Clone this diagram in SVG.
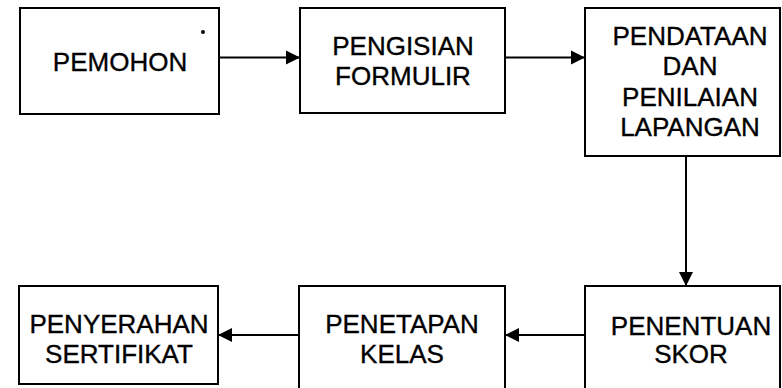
<svg xmlns="http://www.w3.org/2000/svg" width="782" height="388" viewBox="0 0 782 388">
<style>
.box{fill:#fff;stroke:#000;stroke-width:2}
.lbl{font-family:"Liberation Sans",Arial,sans-serif;font-size:26px;fill:#000;stroke:#000;stroke-width:0.35;text-anchor:middle}
.conn{stroke:#000;stroke-width:2;fill:none;marker-end:url(#ah)}
</style>
<defs>
<marker id="ah" markerWidth="15" markerHeight="15" viewBox="0 0 15 15" refX="14" refY="7.5" orient="auto" markerUnits="userSpaceOnUse">
<path d="M0,0.5 L14,7.5 L0,14.5 Z" fill="#000"/>
</marker>
</defs>
<rect width="782" height="388" fill="#fff"/>
<g id="connectors">
<line class="conn" x1="219" y1="57.5" x2="300" y2="57.5"/>
<line class="conn" x1="505" y1="57.5" x2="585" y2="57.5"/>
<line class="conn" x1="686" y1="156" x2="686" y2="286"/>
<line class="conn" x1="585" y1="335" x2="505" y2="335"/>
<line class="conn" x1="299" y1="335" x2="218" y2="335"/>
</g>
<g id="pemohon">
<rect class="box" x="20" y="8" width="199" height="106"/>
<text class="lbl" x="120" y="71">PEMOHON</text>
<circle cx="203" cy="32" r="2" fill="#000"/>
</g>
<g id="pengisian">
<rect class="box" x="300" y="8" width="205" height="105"/>
<text class="lbl" x="403" y="55">PENGISIAN</text>
<text class="lbl" x="403" y="85">FORMULIR</text>
</g>
<g id="pendataan">
<rect class="box" x="585" y="8" width="195" height="148"/>
<text class="lbl" x="690" y="45">PENDATAAN</text>
<text class="lbl" x="690" y="75">DAN</text>
<text class="lbl" x="690" y="106">PENILAIAN</text>
<text class="lbl" x="690" y="136">LAPANGAN</text>
</g>
<g id="penentuan">
<rect class="box" x="585" y="286" width="195" height="110"/>
<text class="lbl" x="691" y="335">PENENTUAN</text>
<text class="lbl" x="691" y="363">SKOR</text>
</g>
<g id="penetapan">
<rect class="box" x="299" y="286" width="206" height="110"/>
<text class="lbl" x="402" y="333">PENETAPAN</text>
<text class="lbl" x="402" y="363">KELAS</text>
</g>
<g id="penyerahan">
<rect class="box" x="19" y="286" width="199" height="98"/>
<text class="lbl" x="119" y="333">PENYERAHAN</text>
<text class="lbl" x="119" y="363">SERTIFIKAT</text>
</g>
</svg>
